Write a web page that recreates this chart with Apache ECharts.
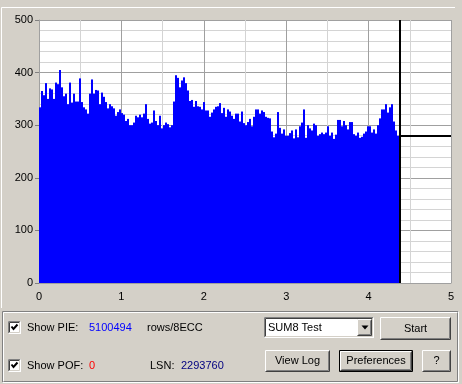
<!DOCTYPE html>
<html><head><meta charset="utf-8">
<script src="https://cdn.jsdelivr.net/npm/echarts@6/dist/echarts.min.js"></script>
<style>html,body{margin:0;padding:0;background:#d4d0c8;}#c{width:462px;height:384px;}</style>
</head><body><div id="c"></div>
<script>
// ---- data ----
const xTicks = [0, 1, 2, 3, 4, 5];
const yTicks = [0, 100, 200, 300, 400, 500];
const sampleStep = 0.02427; // disc position covered by one sample
const pieValues = [
  334,365,357,380,350,370,368,350,381,378,
  405,372,355,360,340,381,343,360,345,345,
  389,344,334,330,322,360,387,360,367,366,
  340,362,354,344,332,340,336,332,318,325,
  330,323,320,308,312,300,
  300,305,318,315,320,315,322,340,312,303,
  305,328,308,300,318,294,300,305,302,296,
  300,345,395,390,372,385,391,380,366,346,
  348,335,346,336,335,330,344,328,328,316,
  324,330,335,336,342,323,
  333,316,330,326,318,312,322,322,307,326,
  304,300,306,312,298,316,330,330,322,328,
  325,316,314,313,288,277,284,325,295,284,
  292,280,280,285,290,275,292,277,298,305,
  330,276,300,294,290,303,
  300,280,283,286,283,286,298,280,286,274,
  282,310,310,298,308,300,292,306,306,283,
  280,286,276,278,284,288,298,298,286,292,
  284,300,313,330,330,340,324,334,340,307,
  290,280
];
const cursorPos = 4.38;
const cursorValue = 280;
const pieTotal = '5100494';
const pofTotal = '0';
const lsn = '2293760';
const testMode = 'SUM8 Test';

// ---- helpers for dialog chrome ----
const FACE = '#d4d0c8';
const FONT = '11px "Liberation Sans", Arial, sans-serif';
const els = [];
function pl(points, color) {
  els.push({type:'polyline', silent:true, z:10, shape:{points}, style:{stroke:color, lineWidth:1, fill:null}});
}
function rect(x, y, w, h, fill, stroke) {
  els.push({type:'rect', silent:true, z:9, shape:{x, y, width:w, height:h}, style:{fill, stroke: stroke || null, lineWidth: stroke ? 1 : 0}});
}
function text(t, x, y, color, align) {
  els.push({type:'text', silent:true, z:11, x, y, style:{text:t, fill:color || '#000', font:FONT, textAlign:align || 'left', textVerticalAlign:'middle'}});
}
function bevel(x, y, w, h, tl, br, inset) {
  const a = x + inset + 0.5, b = y + inset + 0.5, c = x + w - inset - 0.5, d = y + h - inset - 0.5;
  pl([[a, d], [a, b], [c, b]], tl);
  pl([[a, d], [c, d], [c, b]], br);
}
function raised(x, y, w, h) {
  rect(x, y, w, h, FACE);
  bevel(x, y, w, h, '#ffffff', '#404040', 0);
  bevel(x, y, w, h, FACE, '#808080', 1);
}
function sunken(x, y, w, h, fill) {
  rect(x, y, w, h, fill);
  bevel(x, y, w, h, '#808080', '#ffffff', 0);
  bevel(x, y, w, h, '#404040', FACE, 1);
}
function button(x, y, w, h, label, isDefault) {
  if (isDefault) {
    rect(x, y, w, h, FACE);
    bevel(x, y, w, h, '#000000', '#000000', 0);
    raised(x + 1, y + 1, w - 2, h - 2);
  } else {
    raised(x, y, w, h);
  }
  text(label, x + w / 2, y + h / 2, '#000', 'center');
}
function checkbox(x, y) {
  sunken(x, y, 13, 13, '#ffffff');
  els.push({type:'polyline', silent:true, z:12, shape:{points:[[x+3.5, y+5.5], [x+5.5, y+8], [x+9.5, y+3.5]]}, style:{stroke:'#000', lineWidth:2, fill:null}});
}
function etched(x, y, w, h) {
  bevel(x, y, w, h, '#808080', '#ffffff', 0);
  bevel(x, y, w, h, '#ffffff', '#808080', 1);
}

// upper panel frame
pl([[1.5, 308], [1.5, 7.5], [455, 7.5]], '#ffffff');
// lower group box
etched(2, 311, 457, 72);
checkbox(8, 321);
text('Show PIE:', 27, 327.5);
text(pieTotal, 89, 327.5, '#0000ff');
text('rows/8ECC', 147, 327.5);
checkbox(8, 359);
text('Show POF:', 27, 366);
text(pofTotal, 89, 366, '#ff0000');
text('LSN:', 150, 366);
text(lsn, 181, 366, '#000080');
// combo box
sunken(264, 317, 110, 21, '#ffffff');
text(testMode, 268, 327.5);
raised(357, 319, 15, 17);
els.push({type:'polygon', silent:true, z:12, shape:{points:[[361.5, 325.5], [368.5, 325.5], [365, 329.5]]}, style:{fill:'#000'}});
button(380, 317, 71, 23, 'Start');
button(265, 350, 65, 22, 'View Log');
button(339, 350, 74, 22, 'Preferences', true);
button(422, 350, 29, 22, '?');

const chart = echarts.init(document.getElementById('c'), null, {renderer:'canvas'});
chart.setOption({
  animation: false,
  backgroundColor: FACE,
  grid: {left: 39, right: 11, top: 20, bottom: 101, show: true, backgroundColor: '#ffffff', borderWidth: 0},
  xAxis: {
    type: 'value', min: xTicks[0], max: xTicks[xTicks.length - 1], interval: 1,
    axisLine: {show: true, lineStyle: {color: '#a0a0a0'}},
    axisTick: {show: false},
    axisLabel: {margin: 8, color: '#000', fontSize: 11, fontFamily: 'Liberation Sans'},
    splitLine: {show: true, lineStyle: {color: '#a0a0a0'}},
    minorTick: {show: false, splitNumber: 2},
    minorSplitLine: {show: true, lineStyle: {color: '#d4d4d4'}}
  },
  yAxis: {
    type: 'value', min: yTicks[0], max: yTicks[yTicks.length - 1], interval: 100,
    axisLine: {show: true, lineStyle: {color: '#a0a0a0'}},
    axisTick: {show: true, length: 4, lineStyle: {color: '#808080'}},
    axisLabel: {margin: 6, color: '#000', fontSize: 11, fontFamily: 'Liberation Sans'},
    splitLine: {show: true, lineStyle: {color: '#a0a0a0'}},
    minorTick: {show: false, splitNumber: 5},
    minorSplitLine: {show: true, lineStyle: {color: '#d4d4d4'}}
  },
  series: [{
    type: 'bar',
    data: pieValues.map((v, i) => [(i + 0.5) * sampleStep, v]),
    barWidth: 2,
    itemStyle: {color: '#0000ff'},
    silent: true,
    markLine: {
      silent: true, symbol: 'none', animation: false,
      label: {show: false},
      lineStyle: {color: '#000', width: 2, type: 'solid'},
      data: [
        {xAxis: cursorPos},
        [{coord: [cursorPos, cursorValue]}, {coord: [xTicks[xTicks.length - 1], cursorValue]}]
      ]
    }
  }],
  graphic: {elements: els}
});
</script></body></html>
